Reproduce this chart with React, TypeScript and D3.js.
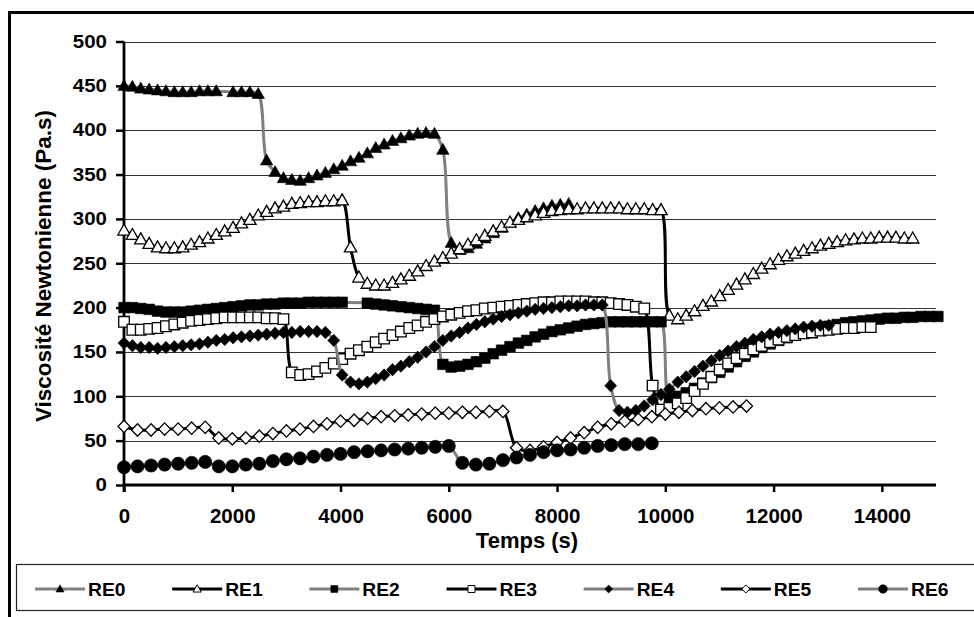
import * as d3 from "d3";
import { useEffect, useRef } from "react";

// sampling steps (s) of the measurement runs
const STEP_FAST = 155;
const STEP_SLOW = 250;

const seriesNames = ["RE0", "RE1", "RE2", "RE3", "RE4", "RE5", "RE6"];

const re0 = [450, 449, 447, 446, 445, 444, 443, 443, 443, 444, 444, 444, null, 443, 443, 443, 441, 366, 353, 346,
  344, 343, 346, 349, 352, 356, 360, 365, 369, 374, 380, 384, 388, 391, 394, 396, 397, 396, 378, 273,
  265, 267, 272, 278, 284, 290, 296, 301, 305, 309, 312, 315, 316, 317];

const re1 = [287, 282, 277, 272, 268, 267, 267, 268, 271, 274, 278, 282, 286, 290, 295, 299, 304, 308, 312, 314,
  317, 318, 319, 319, 320, 320, 321, 268, 234, 227, 225, 225, 228, 232, 236, 241, 247, 252, 256, 261,
  266, 271, 276, 281, 286, 291, 296, 299, 302, 304, 307, 309, 310, 311, 311, 312, 312, 312, 312, 312,
  311, 311, 311, 310, 310, 191, 187, 191, 196, 202, 207, 213, 220, 226, 232, 238, 244, 249, 254, 258,
  261, 264, 267, 270, 272, 274, 276, 277, 278, 278, 279, 279, 279, 278, 278];

const re2 = [200, 200, 199, 198, 196, 195, 195, 195, 196, 197, 198, 199, 200, 201, 202, 203, 203, 204, 204, 205,
  205, 205, 206, 206, 206, 206, 206, null, null, 205, 204, 203, 202, 201, 200, 199, 198, 197, 136, 133,
  134, 136, 139, 143, 148, 152, 156, 160, 163, 167, 170, 173, 175, 177, 179, 181, 182, 183, 184, 184,
  184, 184, 184, 184, 184, 97, 100, 104, 109, 115, 121, 127, 133, 139, 145, 150, 155, 159, 163, 166,
  169, 172, 175, 177, 179, 181, 183, 184, 185, 186, 187, 188, 188, 189, 189, 190, 190, 190];

const re3 = [184, 175, 175, 176, 177, 179, 181, 183, 185, 186, 187, 188, 189, 189, 189, 189, 189, 188, 188, 187,
  127, 124, 125, 128, 132, 137, 142, 148, 152, 156, 161, 165, 169, 173, 177, 180, 184, 187, 190, 192,
  194, 196, 197, 199, 200, 201, 202, 203, 204, 205, 206, 206, 207, 207, 207, 207, 206, 206, 205, 204,
  203, 201, 199, 112, 85, 87, 92, 98, 106, 114, 122, 130, 137, 143, 148, 153, 157, 161, 164, 167,
  169, 171, 172, 174, 175, 176, 177, 177, 178, 178];

const re4 = [160, 157, 155, 155, 154, 155, 156, 157, 158, 159, 161, 163, 164, 166, 167, 168, 169, 170, 171, 172,
  172, 173, 173, 173, 172, 163, 124, 116, 114, 116, 120, 124, 130, 134, 139, 144, 150, 156, 163, 168,
  172, 177, 181, 184, 187, 190, 192, 194, 196, 198, 199, 200, 201, 202, 202, 203, 203, 203, 112, 84,
  82, 84, 89, 96, 102, 108, 116, 122, 128, 134, 140, 146, 151, 156, 160, 164, 167, 170, 172, 174,
  176, 178, 179, 180, 180];

const re5 = [66, 62, 62, 63, 63, 64, 65, 53, 52, 53, 55, 58, 61, 63, 66, 69, 72, 73, 75, 77,
  78, 79, 80, 81, 81, 82, 82, 83, 83, 42, 39, 43, 48, 53, 59, 65, 69, 72, 74, 77,
  80, 82, 84, 86, 87, 88, 89];

const re6 = [20, 21, 22, 23, 24, 25, 26, 21, 21, 23, 24, 27, 29, 30, 32, 34, 35, 37, 38, 39,
  40, 41, 42, 43, 44, 25, 23, 24, 28, 31, 34, 37, 39, 40, 42, 44, 45, 46, 46, 47];

const xTicks = [0, 2000, 4000, 6000, 8000, 10000, 12000, 14000];
const yTicks = [0, 50, 100, 150, 200, 250, 300, 350, 400, 450, 500];

const GRAY = "#808080";
const FONT = "'Liberation Sans', Arial, sans-serif";

type Pt = { t: number; v: number };

export default function App() {
  const svgRef = useRef<SVGSVGElement | null>(null);

  useEffect(() => {
    const width = 974;
    const height = 617;
    const svg = d3.select(svgRef.current);
    svg.selectAll("*").remove();
    svg.attr("width", width).attr("height", height);

    const x = d3.scaleLinear().domain([0, 15000]).range([124, 936]);
    const y = d3.scaleLinear().domain([0, 500]).range([485, 41.5]);

    // outer frame
    svg.append("rect").attr("x", 9.5).attr("y", 12.5).attr("width", 1000).attr("height", 700)
      .attr("fill", "white").attr("stroke", "#000").attr("stroke-width", 3);

    // gridlines
    svg.append("g").selectAll("line").data(yTicks.filter(d => d > 0)).enter().append("line")
      .attr("x1", x(0)).attr("x2", x(15000))
      .attr("y1", d => Math.round(y(d)) + 0.5).attr("y2", d => Math.round(y(d)) + 0.5)
      .attr("stroke", "#333").attr("stroke-width", 1);

    // axes
    const yAxis = svg.append("g").attr("transform", `translate(${x(0)},0)`)
      .call(d3.axisLeft(y).tickValues(yTicks).tickSize(8).tickPadding(9).tickFormat(d3.format("d")));
    const xAxis = svg.append("g").attr("transform", `translate(0,${y(0)})`)
      .call(d3.axisBottom(x).tickValues(xTicks).tickSize(7).tickPadding(16).tickFormat(d3.format("d")));
    [yAxis, xAxis].forEach(a => {
      a.select(".domain").attr("stroke", "#000").attr("stroke-width", 2.8);
      a.selectAll(".tick line").attr("stroke", "#000").attr("stroke-width", 2.5);
      a.selectAll("text").attr("fill", "#000").attr("font-family", FONT).attr("font-weight", "bold");
    });
    yAxis.select(".domain").attr("d", `M0,${y(500)}V${y(0) + 7}`);
    xAxis.select(".domain").attr("d", `M${x(0)},0H${x(15000)}`);
    yAxis.selectAll("text").attr("font-size", 18)
      .attr("transform", "scale(1.14,1)").attr("x", -17 / 1.14);
    xAxis.selectAll("text").attr("font-size", 20.5);

    // axis titles
    svg.append("text").attr("x", 527).attr("y", 548).attr("text-anchor", "middle")
      .attr("font-family", FONT).attr("font-weight", "bold").attr("font-size", 22).text("Temps (s)");
    svg.append("text").attr("transform", "translate(51,266) rotate(-90)").attr("text-anchor", "middle")
      .attr("font-family", FONT).attr("font-weight", "bold").attr("font-size", 22.5)
      .text("Viscosité Newtonienne (Pa.s)");

    const allValues = [re0, re1, re2, re3, re4, re5, re6];
    const steps = [STEP_FAST, STEP_FAST, STEP_FAST, STEP_FAST, STEP_FAST, STEP_SLOW, STEP_SLOW];
    const lineColors = [GRAY, "#000", GRAY, "#000", GRAY, "#000", GRAY];
    const fills = ["#000", "#fff", "#000", "#fff", "#000", "#fff", "#000"];
    const shapes = ["tri", "tri", "sq", "sq", "dia", "dia", "circ"];

    const markerPath = (shape: string, s: number) => {
      if (shape === "tri") return `M0,${-6.4 * s}L${6.2 * s},${4.6 * s}L${-6.2 * s},${4.6 * s}Z`;
      if (shape === "sq") return `M${-5.3 * s},${-5.3 * s}h${10.6 * s}v${10.6 * s}h${-10.6 * s}Z`;
      if (shape === "dia") return `M0,${-6.2 * s}L${6 * s},0L0,${6.2 * s}L${-6 * s},0Z`;
      const r = 6.6 * s;
      return `M${r},0A${r},${r} 0 1,1 ${-r},0A${r},${r} 0 1,1 ${r},0Z`;
    };

    const line = d3.line<Pt>().x(d => x(d.t)).y(d => y(d.v)).curve(d3.curveCatmullRom.alpha(0.5));

    allValues.forEach((vals, k) => {
      const pts: Pt[] = [];
      vals.forEach((v, i) => { if (v !== null) pts.push({ t: i * steps[k], v: v as number }); });
      const g = svg.append("g");
      g.append("path").datum(pts).attr("d", line).attr("fill", "none")
        .attr("stroke", lineColors[k]).attr("stroke-width", 3).attr("stroke-linejoin", "round");
      g.selectAll("path.m").data(pts).enter().append("path").attr("class", "m")
        .attr("transform", d => `translate(${x(d.t)},${y(d.v)})`)
        .attr("d", markerPath(shapes[k], 1))
        .attr("fill", fills[k]).attr("stroke", "#000").attr("stroke-width", fills[k] === "#fff" ? 1.3 : 0.6);
    });

    // legend
    const lg = svg.append("g");
    lg.append("rect").attr("x", 16.5).attr("y", 564.5).attr("width", 1000).attr("height", 46)
      .attr("fill", "white").attr("stroke", "#222").attr("stroke-width", 1.2);
    const legendX = d3.scaleLinear().domain([0, 6]).range([35, 858]);
    seriesNames.forEach((name, k) => {
      const lx = legendX(k);
      lg.append("line").attr("x1", lx).attr("x2", lx + 50).attr("y1", 589).attr("y2", 589)
        .attr("stroke", lineColors[k]).attr("stroke-width", 3);
      lg.append("path").attr("transform", `translate(${lx + 25},589)`)
        .attr("d", markerPath(shapes[k], 0.66))
        .attr("fill", fills[k]).attr("stroke", "#000").attr("stroke-width", fills[k] === "#fff" ? 1 : 0.5);
      lg.append("text").attr("font-family", FONT)
        .attr("font-weight", "bold").attr("font-size", 18).attr("transform", `scale(1.07,1)`)
        .attr("x", (lx + 53) / 1.07).attr("y", 596).text(name);
    });
  }, []);

  return (
    <div style={{ position: "absolute", left: 0, top: 0 }}>
      <svg ref={svgRef}></svg>
    </div>
  );
}
